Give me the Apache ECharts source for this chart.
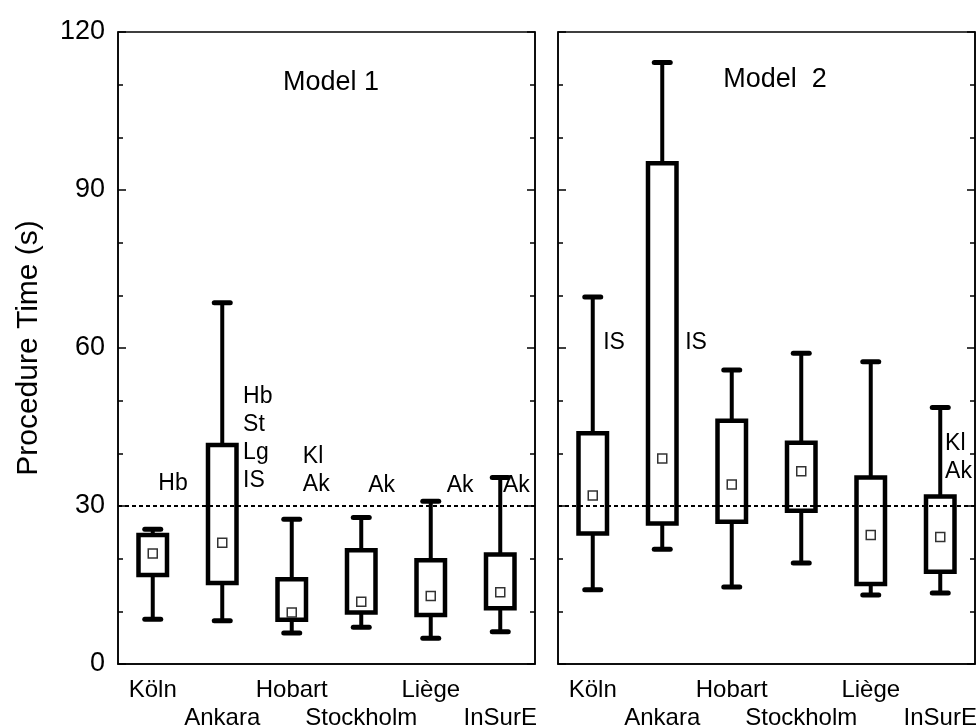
<!DOCTYPE html>
<html lang="en">
<head>
    <meta charset="utf-8">
    <title>Procedure Time</title>
    <script src="https://cdn.jsdelivr.net/npm/echarts@6/dist/echarts.min.js"></script>
    <style>
        html, body { margin: 0; padding: 0; background: #fff; }
    </style>
</head>
<body>
<div id="main" style="width:979px;height:726px;"></div>
<script type="text/javascript">
    var sites = ['Köln', 'Ankara', 'Hobart', 'Stockholm', 'Liège', 'InSurE'];

    // Model 1
    var m1Low  = [8.5, 8.2, 5.9, 7.0, 4.9, 6.1];
    var m1Q1   = [16.9, 15.4, 8.4, 9.8, 9.3, 10.6];
    var m1Q3   = [24.5, 41.6, 16.1, 21.6, 19.7, 20.8];
    var m1High = [25.6, 68.6, 27.5, 27.8, 30.9, 35.4];
    var m1Mean = [21.0, 23.0, 9.8, 11.8, 12.9, 13.6];

    // Model 2
    var m2Low  = [14.1, 21.8, 14.6, 19.2, 13.1, 13.5];
    var m2Q1   = [24.8, 26.7, 27.0, 29.1, 15.2, 17.5];
    var m2Q3   = [43.8, 95.1, 46.2, 42.0, 35.4, 31.8];
    var m2High = [69.7, 114.2, 55.8, 59.0, 57.4, 48.7];
    var m2Mean = [32.0, 39.0, 34.1, 36.6, 24.5, 24.1];

    var refLine = 30;
    var yTicks = [0, 30, 60, 90, 120];

    // significance notes: site index, value, offset from centre in category widths
    var m1Notes = [
        {site: 0, at: 34.2, dx: 0.08, text: 'Hb'},
        {site: 1, at: 42.8, dx: 0.30, text: 'Hb\nSt\nLg\nIS'},
        {site: 2, at: 36.8, dx: 0.16, text: 'Kl\nAk'},
        {site: 3, at: 33.9, dx: 0.10, text: 'Ak'},
        {site: 4, at: 33.9, dx: 0.23, text: 'Ak'},
        {site: 5, at: 33.9, dx: 0.04, text: 'Ak'}
    ];
    var m2Notes = [
        {site: 0, at: 61.0, dx: 0.15, text: 'IS'},
        {site: 1, at: 61.0, dx: 0.33, text: 'IS'},
        {site: 5, at: 39.2, dx: 0.07, text: 'Kl\nAk'}
    ];

    var FONT = "'Liberation Sans', Arial, Helvetica, sans-serif";

    function boxData(low, q1, q3, high, mean) {
        var out = [];
        for (var i = 0; i < low.length; i++) {
            out.push([i, low[i], q1[i], q3[i], high[i], mean[i]]);
        }
        return out;
    }

    function renderBox(params, api) {
        var c = api.value(0);
        var x = api.coord([c, 0])[0];
        var band = api.size([1, 0])[0];
        var yLow = api.coord([c, api.value(1)])[1];
        var yQ1 = api.coord([c, api.value(2)])[1];
        var yQ3 = api.coord([c, api.value(3)])[1];
        var yHigh = api.coord([c, api.value(4)])[1];
        var yMean = api.coord([c, api.value(5)])[1];
        var bw = band * 0.41;
        var cw = band * 0.115;
        var ms = 9;
        return {
            type: 'group',
            children: [
                {type: 'line', shape: {x1: x, y1: yLow, x2: x, y2: yHigh},
                    style: {stroke: '#000', lineWidth: 4}},
                {type: 'line', shape: {x1: x - cw, y1: yLow, x2: x + cw, y2: yLow},
                    style: {stroke: '#000', lineWidth: 5, lineCap: 'round'}},
                {type: 'line', shape: {x1: x - cw, y1: yHigh, x2: x + cw, y2: yHigh},
                    style: {stroke: '#000', lineWidth: 5, lineCap: 'round'}},
                {type: 'rect', shape: {x: x - bw / 2, y: yQ3, width: bw, height: yQ1 - yQ3},
                    style: {fill: '#fff', stroke: '#000', lineWidth: 4.5}},
                {type: 'rect', shape: {x: x - ms / 2, y: yMean - ms / 2, width: ms, height: ms},
                    style: {fill: '#fff', stroke: '#333', lineWidth: 1.5}}
            ]
        };
    }

    function noteRenderer(notes) {
        return function (params, api) {
            var n = notes[params.dataIndex];
            var p = api.coord([n.site, n.at]);
            var band = api.size([1, 0])[0];
            return {
                type: 'text',
                x: p[0] + n.dx * band,
                y: p[1],
                style: {
                    text: n.text,
                    fill: '#000',
                    fontSize: 23,
                    fontFamily: FONT,
                    lineHeight: 28,
                    align: 'left',
                    verticalAlign: 'middle'
                }
            };
        };
    }

    function xAxisFor(idx) {
        return {
            type: 'category',
            gridIndex: idx,
            data: sites,
            boundaryGap: true,
            axisLine: {lineStyle: {color: '#000', width: 1.5}},
            axisTick: {inside: true, alignWithLabel: true, length: 5, lineStyle: {color: '#000', width: 1.5}},
            axisLabel: {
                interval: 0,
                color: '#000',
                fontSize: 24,
                fontFamily: FONT,
                lineHeight: 28,
                margin: 12,
                formatter: function (v, i) { return i % 2 ? '\n' + v : v; }
            }
        };
    }

    function yAxisFor(idx, pos, labels) {
        var ax = {
            type: 'value',
            gridIndex: idx,
            position: pos,
            min: yTicks[0],
            max: yTicks[yTicks.length - 1],
            interval: yTicks[1] - yTicks[0],
            axisLine: {show: true, lineStyle: {color: '#000', width: 1.5}},
            axisTick: {show: true, inside: true, length: 8, lineStyle: {color: '#000', width: 1.5}},
            minorTick: {show: true, splitNumber: 3, length: 5, lineStyle: {color: '#000', width: 1.5}},
            splitLine: {show: false},
            axisLabel: {show: labels, color: '#000', fontSize: 27, fontFamily: FONT, margin: 13}
        };
        if (labels) {
            ax.name = 'Procedure Time (s)';
            ax.nameLocation = 'middle';
            ax.nameGap = 74;
            ax.nameTextStyle = {color: '#000', fontSize: 30, fontFamily: FONT};
        }
        return ax;
    }

    function refSeries(idx) {
        return {
            type: 'line',
            xAxisIndex: idx,
            yAxisIndex: idx * 2,
            data: [],
            z: 1,
            silent: true,
            markLine: {
                silent: true,
                symbol: 'none',
                label: {show: false},
                lineStyle: {color: '#000', width: 2, type: [4, 3]},
                data: [{yAxis: refLine}]
            }
        };
    }

    var myChart = echarts.init(document.getElementById('main'));

    var option = {
        backgroundColor: '#fff',
        animation: false,
        grid: [
            {left: 118, top: 32, width: 417, height: 632, show: true, borderColor: '#000', borderWidth: 1.5, outerBoundsMode: 'none', containLabel: false},
            {left: 558, top: 32, width: 417, height: 632, show: true, borderColor: '#000', borderWidth: 1.5, outerBoundsMode: 'none', containLabel: false}
        ],
        xAxis: [xAxisFor(0), xAxisFor(1)],
        yAxis: [
            yAxisFor(0, 'left', true), yAxisFor(0, 'right', false),
            yAxisFor(1, 'left', false), yAxisFor(1, 'right', false)
        ],
        graphic: [
            {type: 'text', x: 331, y: 83, style: {text: 'Model 1', fontSize: 27, fontFamily: FONT, fill: '#000', align: 'center', verticalAlign: 'middle'}},
            {type: 'text', x: 775, y: 80, style: {text: 'Model  2', fontSize: 27, fontFamily: FONT, fill: '#000', align: 'center', verticalAlign: 'middle'}}
        ],
        series: [
            refSeries(0),
            refSeries(1),
            {
                type: 'custom', name: 'Model 1', xAxisIndex: 0, yAxisIndex: 0, z: 3,
                renderItem: renderBox,
                encode: {x: 0, y: [1, 2, 3, 4, 5]},
                data: boxData(m1Low, m1Q1, m1Q3, m1High, m1Mean)
            },
            {
                type: 'custom', name: 'Model 2', xAxisIndex: 1, yAxisIndex: 2, z: 3,
                renderItem: renderBox,
                encode: {x: 0, y: [1, 2, 3, 4, 5]},
                data: boxData(m2Low, m2Q1, m2Q3, m2High, m2Mean)
            },
            {
                type: 'custom', xAxisIndex: 0, yAxisIndex: 0, z: 4, silent: true,
                renderItem: noteRenderer(m1Notes),
                encode: {x: 0, y: 1},
                data: m1Notes.map(function (n) { return [n.site, n.at]; })
            },
            {
                type: 'custom', xAxisIndex: 1, yAxisIndex: 2, z: 4, silent: true,
                renderItem: noteRenderer(m2Notes),
                encode: {x: 0, y: 1},
                data: m2Notes.map(function (n) { return [n.site, n.at]; })
            }
        ]
    };

    myChart.setOption(option);
</script>
</body>
</html>
